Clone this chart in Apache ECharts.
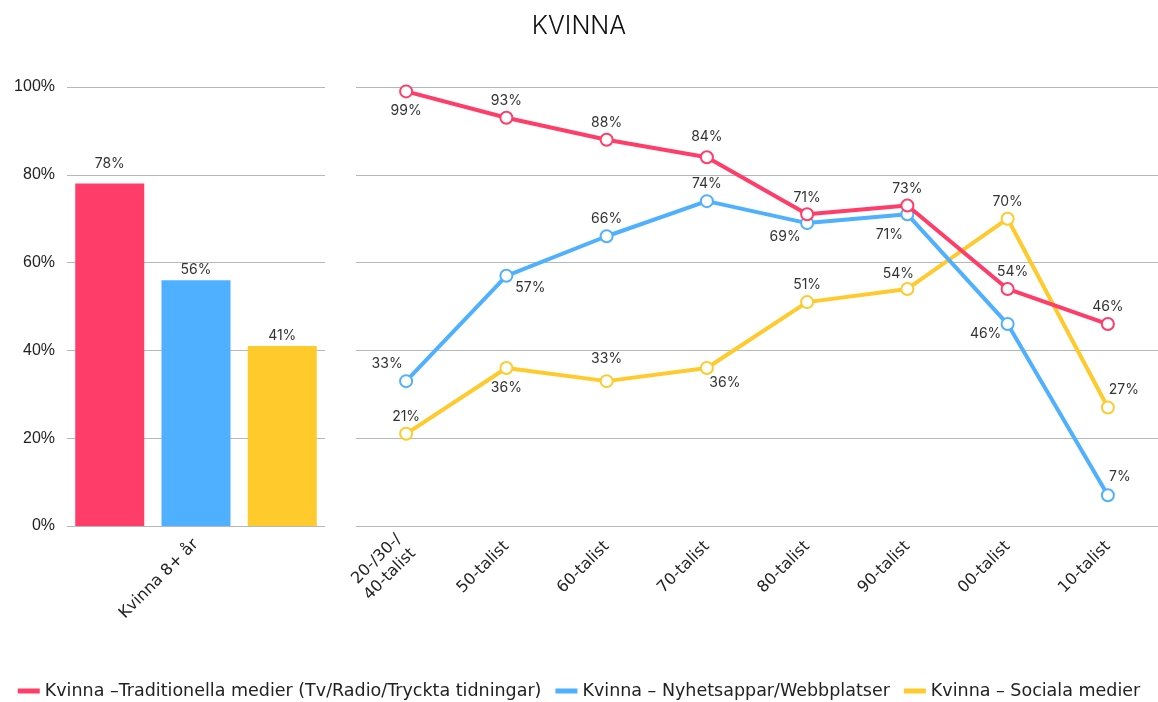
<!DOCTYPE html>
<html>
<head>
<meta charset="utf-8">
<script src="https://cdn.jsdelivr.net/npm/echarts@6/dist/echarts.min.js"></script>
<style>
  html, body { margin: 0; padding: 0; background: #fff; }
  #chart { width: 1158px; height: 702px; }
</style>
</head>
<body>
<div id="chart"></div>
<script>
// totals (left panel)
const totalCategory = ['Kvinna 8+ år']
const totalTrad = [78]
const totalNyhet = [56]
const totalSocial = [41]

// per generation (right panel)
const generations = ['20-/30-/\n40-talist', '50-talist', '60-talist', '70-talist', '80-talist', '90-talist', '00-talist', '10-talist']
const trad = [99, 93, 88, 84, 71, 73, 54, 46]
const nyhet = [33, 57, 66, 74, 69, 71, 46, 7]
const social = [21, 36, 33, 36, 51, 54, 70, 27]

const yTicks = [0, 20, 40, 60, 80, 100]

const seriesNames = [
  'Kvinna –Traditionella medier (Tv/Radio/Tryckta tidningar)',
  'Kvinna – Nyhetsappar/Webbplatser',
  'Kvinna – Sociala medier'
]
const colors = ['#ff3d68', '#4fb0ff', '#ffca2c']

// label placement per point (style only)
const tradLabelPos = [['bottom', [0, 2]], ['top', [0, 0]], ['top', [0, 0]], ['top', [0, -3]], ['top', [0, 0]], ['top', [0, 0]], ['top', [5, 0]], ['top', [0, 0]]]
const nyhetLabelPos = [['top', [-19, 0]], ['bottom', [24, -5]], ['top', [0, 0]], ['top', [0, 0]], ['bottom', [-22, -3]], ['bottom', [-18, 3]], ['bottom', [-22, -7]], ['top', [12, -1]]]
const socialLabelPos = [['top', [0, 0]], ['bottom', [0, 3]], ['top', [0, -5]], ['bottom', [18, -2]], ['top', [0, 0]], ['top', [-9, 2]], ['top', [0, 0]], ['top', [16, -1]]]
const barLabelDist = [13, 3, 3]

const font = 'Inter, "Noto Sans", sans-serif'
const wideFont = '"DejaVu Sans", "Noto Sans", sans-serif'

function withLabels(values, pos) {
  return values.map((v, i) => ({
    value: v,
    label: { position: pos[i][0], offset: pos[i][1] }
  }))
}

const chart = echarts.init(document.getElementById('chart'))

const yAxisBase = {
  type: 'value',
  min: yTicks[0],
  max: yTicks[yTicks.length - 1],
  interval: 20,
  axisLine: { show: false },
  axisTick: { show: false },
  splitLine: { lineStyle: { color: '#b4b7bc', width: 1 } }
}

const lineLabel = {
  show: true,
  formatter: '{c}%',
  fontFamily: font,
  fontSize: 14,
  color: '#333',
  distance: 3
}

function lineSeries(idx, values, pos) {
  return {
    name: seriesNames[idx],
    type: 'line',
    xAxisIndex: 1,
    yAxisIndex: 1,
    data: withLabels(values, pos),
    symbol: 'emptyCircle',
    symbolSize: 12,
    lineStyle: { width: 4, color: colors[idx] },
    itemStyle: { color: colors[idx], borderWidth: 3, borderColor: colors[idx] },
    label: lineLabel,
    z: 3 - idx
  }
}

function barSeries(idx, values) {
  return {
    name: seriesNames[idx], type: 'bar', xAxisIndex: 0, yAxisIndex: 0,
    data: values,
    itemStyle: { color: colors[idx] },
    label: {
      show: true,
      position: 'top',
      distance: barLabelDist[idx],
      formatter: '{c}%',
      fontFamily: font,
      fontSize: 14,
      color: '#333'
    },
    barWidth: 69,
    barGap: '25%'
  }
}

chart.setOption({
  animation: false,
  title: {
    text: 'KVINNA',
    left: 'center',
    top: 9,
    textStyle: { fontFamily: font, fontSize: 25, fontWeight: 300, color: '#111' }
  },
  legend: {
    bottom: -3,
    left: 'center',
    itemWidth: 22,
    itemHeight: 5,
    itemGap: 14,
    icon: 'rect',
    data: seriesNames,
    textStyle: { fontFamily: wideFont, fontSize: 17.5, color: '#222' }
  },
  grid: [
    { left: 67, width: 258, top: 87, height: 439 },
    { left: 356, right: -4, top: 87, height: 439 }
  ],
  xAxis: [
    {
      type: 'category',
      gridIndex: 0,
      data: totalCategory,
      axisLine: { show: false },
      axisTick: { show: false },
      axisLabel: { rotate: 45, fontFamily: wideFont, fontSize: 16, color: '#222', margin: 16 }
    },
    {
      type: 'category',
      gridIndex: 1,
      data: generations,
      axisLine: { show: false },
      axisTick: { show: false },
      axisLabel: { rotate: 45, fontFamily: wideFont, fontSize: 16, color: '#222', margin: 18, lineHeight: 20, interval: 0 }
    }
  ],
  yAxis: [
    Object.assign({}, yAxisBase, {
      gridIndex: 0,
      axisLabel: { formatter: '{value}%', fontFamily: '"Liberation Sans", Arial, sans-serif', fontSize: 16, color: '#222', margin: 12 }
    }),
    Object.assign({}, yAxisBase, {
      gridIndex: 1,
      axisLabel: { show: false }
    })
  ],
  series: [
    barSeries(0, totalTrad),
    barSeries(1, totalNyhet),
    barSeries(2, totalSocial),
    lineSeries(0, trad, tradLabelPos),
    lineSeries(1, nyhet, nyhetLabelPos),
    lineSeries(2, social, socialLabelPos)
  ]
})
</script>
</body>
</html>
